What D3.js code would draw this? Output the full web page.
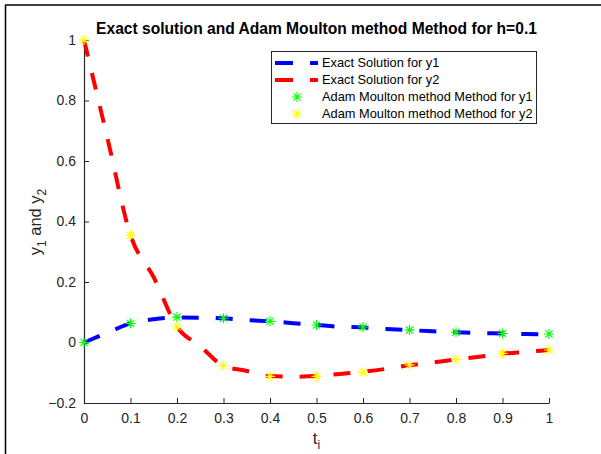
<!DOCTYPE html>
<html><head><meta charset="utf-8">
<script src="https://cdn.jsdelivr.net/npm/d3@7"></script>
<style>html,body{margin:0;padding:0;background:#fff;}svg{display:block;font-family:Arial,"Liberation Sans",Helvetica,sans-serif;}</style>
</head><body>
<script>
// Exact solution (t step 0.05)
const tExact = [0,0.05,0.1,0.15,0.2,0.25,0.3,0.35,0.4,0.45,0.5,0.55,0.6,0.65,0.7,0.75,0.8,0.85,0.9,0.95,1];
const y1Exact = [0,0.032,0.063,0.077,0.083,0.082,0.080,0.074,0.070,0.064,0.058,0.052,0.050,0.045,0.041,0.037,0.034,0.031,0.030,0.028,0.027];
const y2Exact = [1,0.678,0.355,0.215,0.052,-0.012,-0.077,-0.094,-0.111,-0.113,-0.111,-0.104,-0.097,-0.087,-0.075,-0.066,-0.056,-0.047,-0.037,-0.031,-0.025];
// Adam Moulton points (h = 0.1)
const tAM = [0,0.1,0.2,0.3,0.4,0.5,0.6,0.7,0.8,0.9,1];
const y1AM = [0,0.063,0.084,0.080,0.070,0.058,0.051,0.041,0.034,0.030,0.028];
const y2AM = [1,0.355,0.052,-0.076,-0.112,-0.112,-0.098,-0.074,-0.056,-0.036,-0.025];
const xTicks = [0,0.1,0.2,0.3,0.4,0.5,0.6,0.7,0.8,0.9,1];
const yTicks = [-0.2,0,0.2,0.4,0.6,0.8,1];
const legendLabels = ["Exact Solution for y1","Exact Solution for y2","Adam Moulton method Method for y1","Adam Moulton method Method for y2"];
const titleText = "Exact solution and Adam Moulton method Method for h=0.1";

const W = 601, H = 454;
const svg = d3.select("body").append("svg").attr("width", W).attr("height", H);
svg.append("rect").attr("width", W).attr("height", H).attr("fill", "#fff");
// figure border (top and left)
svg.append("line").attr("x1",5).attr("x2",W).attr("y1",5).attr("y2",5).attr("stroke","#000").attr("stroke-width",1.5);
svg.append("line").attr("x1",5.5).attr("x2",5.5).attr("y1",5).attr("y2",H).attr("stroke","#000").attr("stroke-width",1.5);

const x = d3.scaleLinear().domain([0,1]).range([84,549]);
const y = d3.scaleLinear().domain([-0.2,1]).range([403,40]);
const axCol = "#262626";

const gx = svg.append("g").attr("transform","translate(0,403)")
  .call(d3.axisBottom(x).tickValues(xTicks).tickFormat(d3.format("")).tickSizeInner(-5).tickSizeOuter(0).tickPadding(10));
const gy = svg.append("g").attr("transform","translate(84,0)")
  .call(d3.axisLeft(y).tickValues(yTicks).tickFormat(d3.format("")).tickSizeInner(-5).tickSizeOuter(0).tickPadding(8));
[gx,gy].forEach(g=>{
  g.select(".domain").attr("stroke",axCol).attr("stroke-width",1.2);
  g.selectAll(".tick line").attr("stroke",axCol).attr("stroke-width",1);
  g.selectAll(".tick text").attr("fill",axCol).style("font-size","14px").style("font-family","Arial,'Liberation Sans',sans-serif");
});

// lines
const line = (ys) => d3.line().x((d,i)=>x(tExact[i])).y(d=>y(d)).curve(d3.curveMonotoneX)(ys);
svg.append("path").attr("d", line(y1Exact)).attr("fill","none").attr("stroke","#0000ff").attr("stroke-width",4).attr("stroke-dasharray","17,17");
svg.append("path").attr("d", line(y2Exact)).attr("fill","none").attr("stroke","#ff0000").attr("stroke-width",4).attr("stroke-dasharray","17,17");

function asterisk(g, cx, cy, col){
  const r = 5, d = 3.6;
  const p = `M${cx-r},${cy}L${cx+r},${cy}M${cx},${cy-r}L${cx},${cy+r}M${cx-d},${cy-d}L${cx+d},${cy+d}M${cx-d},${cy+d}L${cx+d},${cy-d}`;
  g.append("path").attr("d",p).attr("stroke",col).attr("stroke-width",1.1).attr("fill","none");
}
const mk = svg.append("g");
tAM.forEach((t,i)=>asterisk(mk, x(t), y(y1AM[i]), "#00ff00"));
tAM.forEach((t,i)=>asterisk(mk, x(t), y(y2AM[i]), "#ffff00"));

// title
svg.append("text").attr("x",316.5).attr("y",34).attr("text-anchor","middle")
  .style("font-weight","bold").style("font-size","15.6px").attr("fill","#000").text(titleText);

// x label
const xl = svg.append("text").attr("x",316.5).attr("y",444).attr("text-anchor","middle").attr("fill",axCol).style("font-size","16.5px");
xl.append("tspan").text("t");
xl.append("tspan").attr("dy",5).style("font-size","12px").text("i");

// y label
const yl = svg.append("text").attr("transform","translate(41,222) rotate(-90)").attr("text-anchor","middle").attr("fill",axCol).style("font-size","16.5px");
yl.append("tspan").text("y");
yl.append("tspan").attr("dy",5).style("font-size","12px").text("1");
yl.append("tspan").attr("dy",-5).text(" and y");
yl.append("tspan").attr("dy",5).style("font-size","12px").text("2");

// legend
const lg = svg.append("g");
lg.append("rect").attr("x",271.5).attr("y",51.5).attr("width",265).attr("height",72).attr("fill","#fff").attr("stroke",axCol).attr("stroke-width",1);
const rowY = [63,80,97,114];
const lcols = ["#0000ff","#ff0000"];
[0,1].forEach(i=>{
  lg.append("line").attr("x1",275).attr("x2",318).attr("y1",rowY[i]).attr("y2",rowY[i]).attr("stroke",lcols[i]).attr("stroke-width",4).attr("stroke-dasharray","18,17");
});
asterisk(lg, 297, rowY[2], "#00ff00");
asterisk(lg, 297, rowY[3], "#ffff00");
legendLabels.forEach((s,i)=>{
  lg.append("text").attr("x",322).attr("y",rowY[i]).attr("dy","0.35em").attr("fill","#000").style("font-size","12.8px").text(s);
});
</script>
</body></html>
